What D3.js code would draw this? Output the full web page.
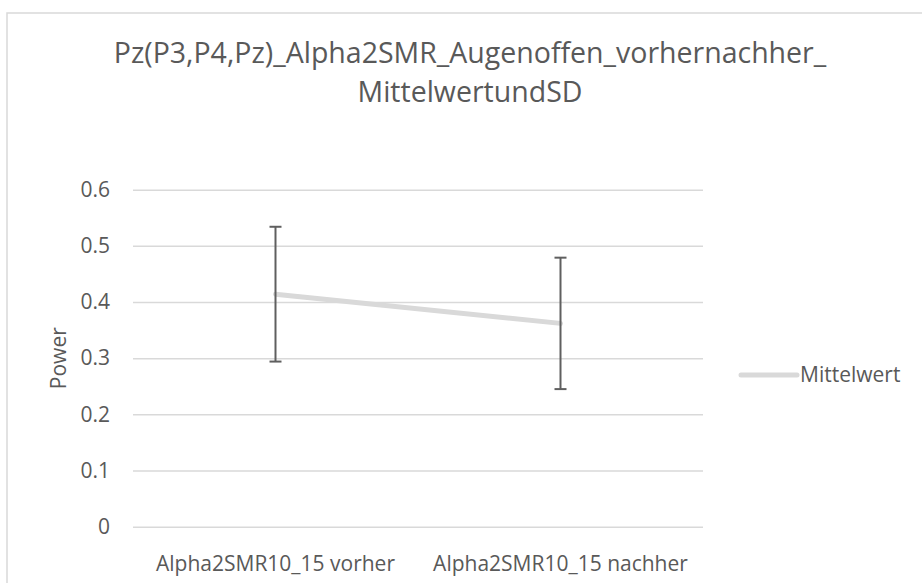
<!DOCTYPE html>
<html><head><meta charset="utf-8">
<script src="https://cdn.jsdelivr.net/npm/d3@7"></script>
<style>
body{margin:0;background:#fff}
svg{display:block}
text{font-family:"Open Sans",sans-serif;fill:#595959}
</style>
</head><body>
<svg id="chart" width="922" height="583"></svg>
<script>
const titleLines = ["Pz(P3,P4,Pz)_Alpha2SMR_Augenoffen_vorhernachher_", "MittelwertundSD"];
const categories = ["Alpha2SMR10_15 vorher", "Alpha2SMR10_15 nachher"];
const meanValues = [0.414, 0.362];
const sdValues = [0.120, 0.117];
const yTicks = [0, 0.1, 0.2, 0.3, 0.4, 0.5, 0.6];
const seriesName = "Mittelwert";
const yAxisTitle = "Power";

const data = categories.map((c, i) => ({cat: c, mean: meanValues[i], sd: sdValues[i]}));

const svg = d3.select("#chart");
const W = 922, H = 583;
const plot = {left: 133, right: 703, top: 189.7, bottom: 526.7};

// chart border
svg.append("rect")
  .attr("x", 7).attr("y", 13)
  .attr("width", W + 20).attr("height", H + 20)
  .attr("fill", "none").attr("stroke", "#d9d9d9").attr("stroke-width", 1.5);

// title
const title = svg.append("text")
  .attr("text-anchor", "middle")
  .style("font-size", "28.5px");
title.selectAll("tspan").data(titleLines).join("tspan")
  .attr("x", 470)
  .attr("y", (d, i) => 63 + i * 39)
  .text(d => d);

const x = d3.scaleBand().domain(categories).range([plot.left, plot.right]);
const y = d3.scaleLinear().domain([0, 0.6]).range([plot.bottom, plot.top]);

// y axis with gridlines
const yAxis = svg.append("g")
  .attr("transform", `translate(${plot.left},0)`)
  .call(d3.axisLeft(y).tickValues(yTicks)
    .tickFormat(d => d === 0 ? "0" : d3.format(".1f")(d))
    .tickSize(-(plot.right - plot.left)).tickPadding(23));
yAxis.select(".domain").remove();
yAxis.selectAll(".tick line").attr("stroke", "#d9d9d9").attr("stroke-width", 1.5);
yAxis.selectAll(".tick text")
  .attr("fill", "#595959")
  .style("font-family", '"Open Sans",sans-serif')
  .style("font-size", "21px");

// x axis
const xAxis = svg.append("g")
  .attr("transform", `translate(0,${plot.bottom})`)
  .call(d3.axisBottom(x).tickSize(0).tickPadding(0));
xAxis.select(".domain").remove();
xAxis.selectAll(".tick text")
  .attr("y", 44).attr("dy", null)
  .attr("fill", "#595959")
  .style("font-family", '"Open Sans",sans-serif')
  .style("font-size", "21px");

// y axis title
svg.append("text")
  .attr("transform", `translate(66,${(plot.top + plot.bottom) / 2}) rotate(-90)`)
  .attr("text-anchor", "middle")
  .style("font-size", "21px")
  .text(yAxisTitle);

// mean line
const line = d3.line().x(d => x(d.cat) + x.bandwidth() / 2).y(d => y(d.mean));
svg.append("path").datum(data)
  .attr("d", line)
  .attr("fill", "none").attr("stroke", "#d9d9d9")
  .attr("stroke-width", 5).attr("stroke-linecap", "round").attr("stroke-linejoin", "round");

// error bars
const eb = svg.append("g").selectAll("g").data(data).join("g")
  .attr("stroke", "#5f5f5f").attr("stroke-width", 2);
const cx = d => x(d.cat) + x.bandwidth() / 2;
eb.append("line")
  .attr("x1", cx).attr("x2", cx)
  .attr("y1", d => y(d.mean + d.sd)).attr("y2", d => y(d.mean - d.sd));
eb.append("line")
  .attr("x1", d => cx(d) - 6).attr("x2", d => cx(d) + 6)
  .attr("y1", d => y(d.mean + d.sd)).attr("y2", d => y(d.mean + d.sd));
eb.append("line")
  .attr("x1", d => cx(d) - 6).attr("x2", d => cx(d) + 6)
  .attr("y1", d => y(d.mean - d.sd)).attr("y2", d => y(d.mean - d.sd));

// legend
const lg = svg.append("g").attr("transform", "translate(741,375)");
lg.append("line")
  .attr("x1", 0).attr("x2", 56).attr("y1", 0).attr("y2", 0)
  .attr("stroke", "#d9d9d9").attr("stroke-width", 5).attr("stroke-linecap", "round");
lg.append("text")
  .attr("x", 59).attr("y", 0).attr("dy", "0.35em")
  .style("font-size", "21px")
  .text(seriesName);
</script>
</body></html>
